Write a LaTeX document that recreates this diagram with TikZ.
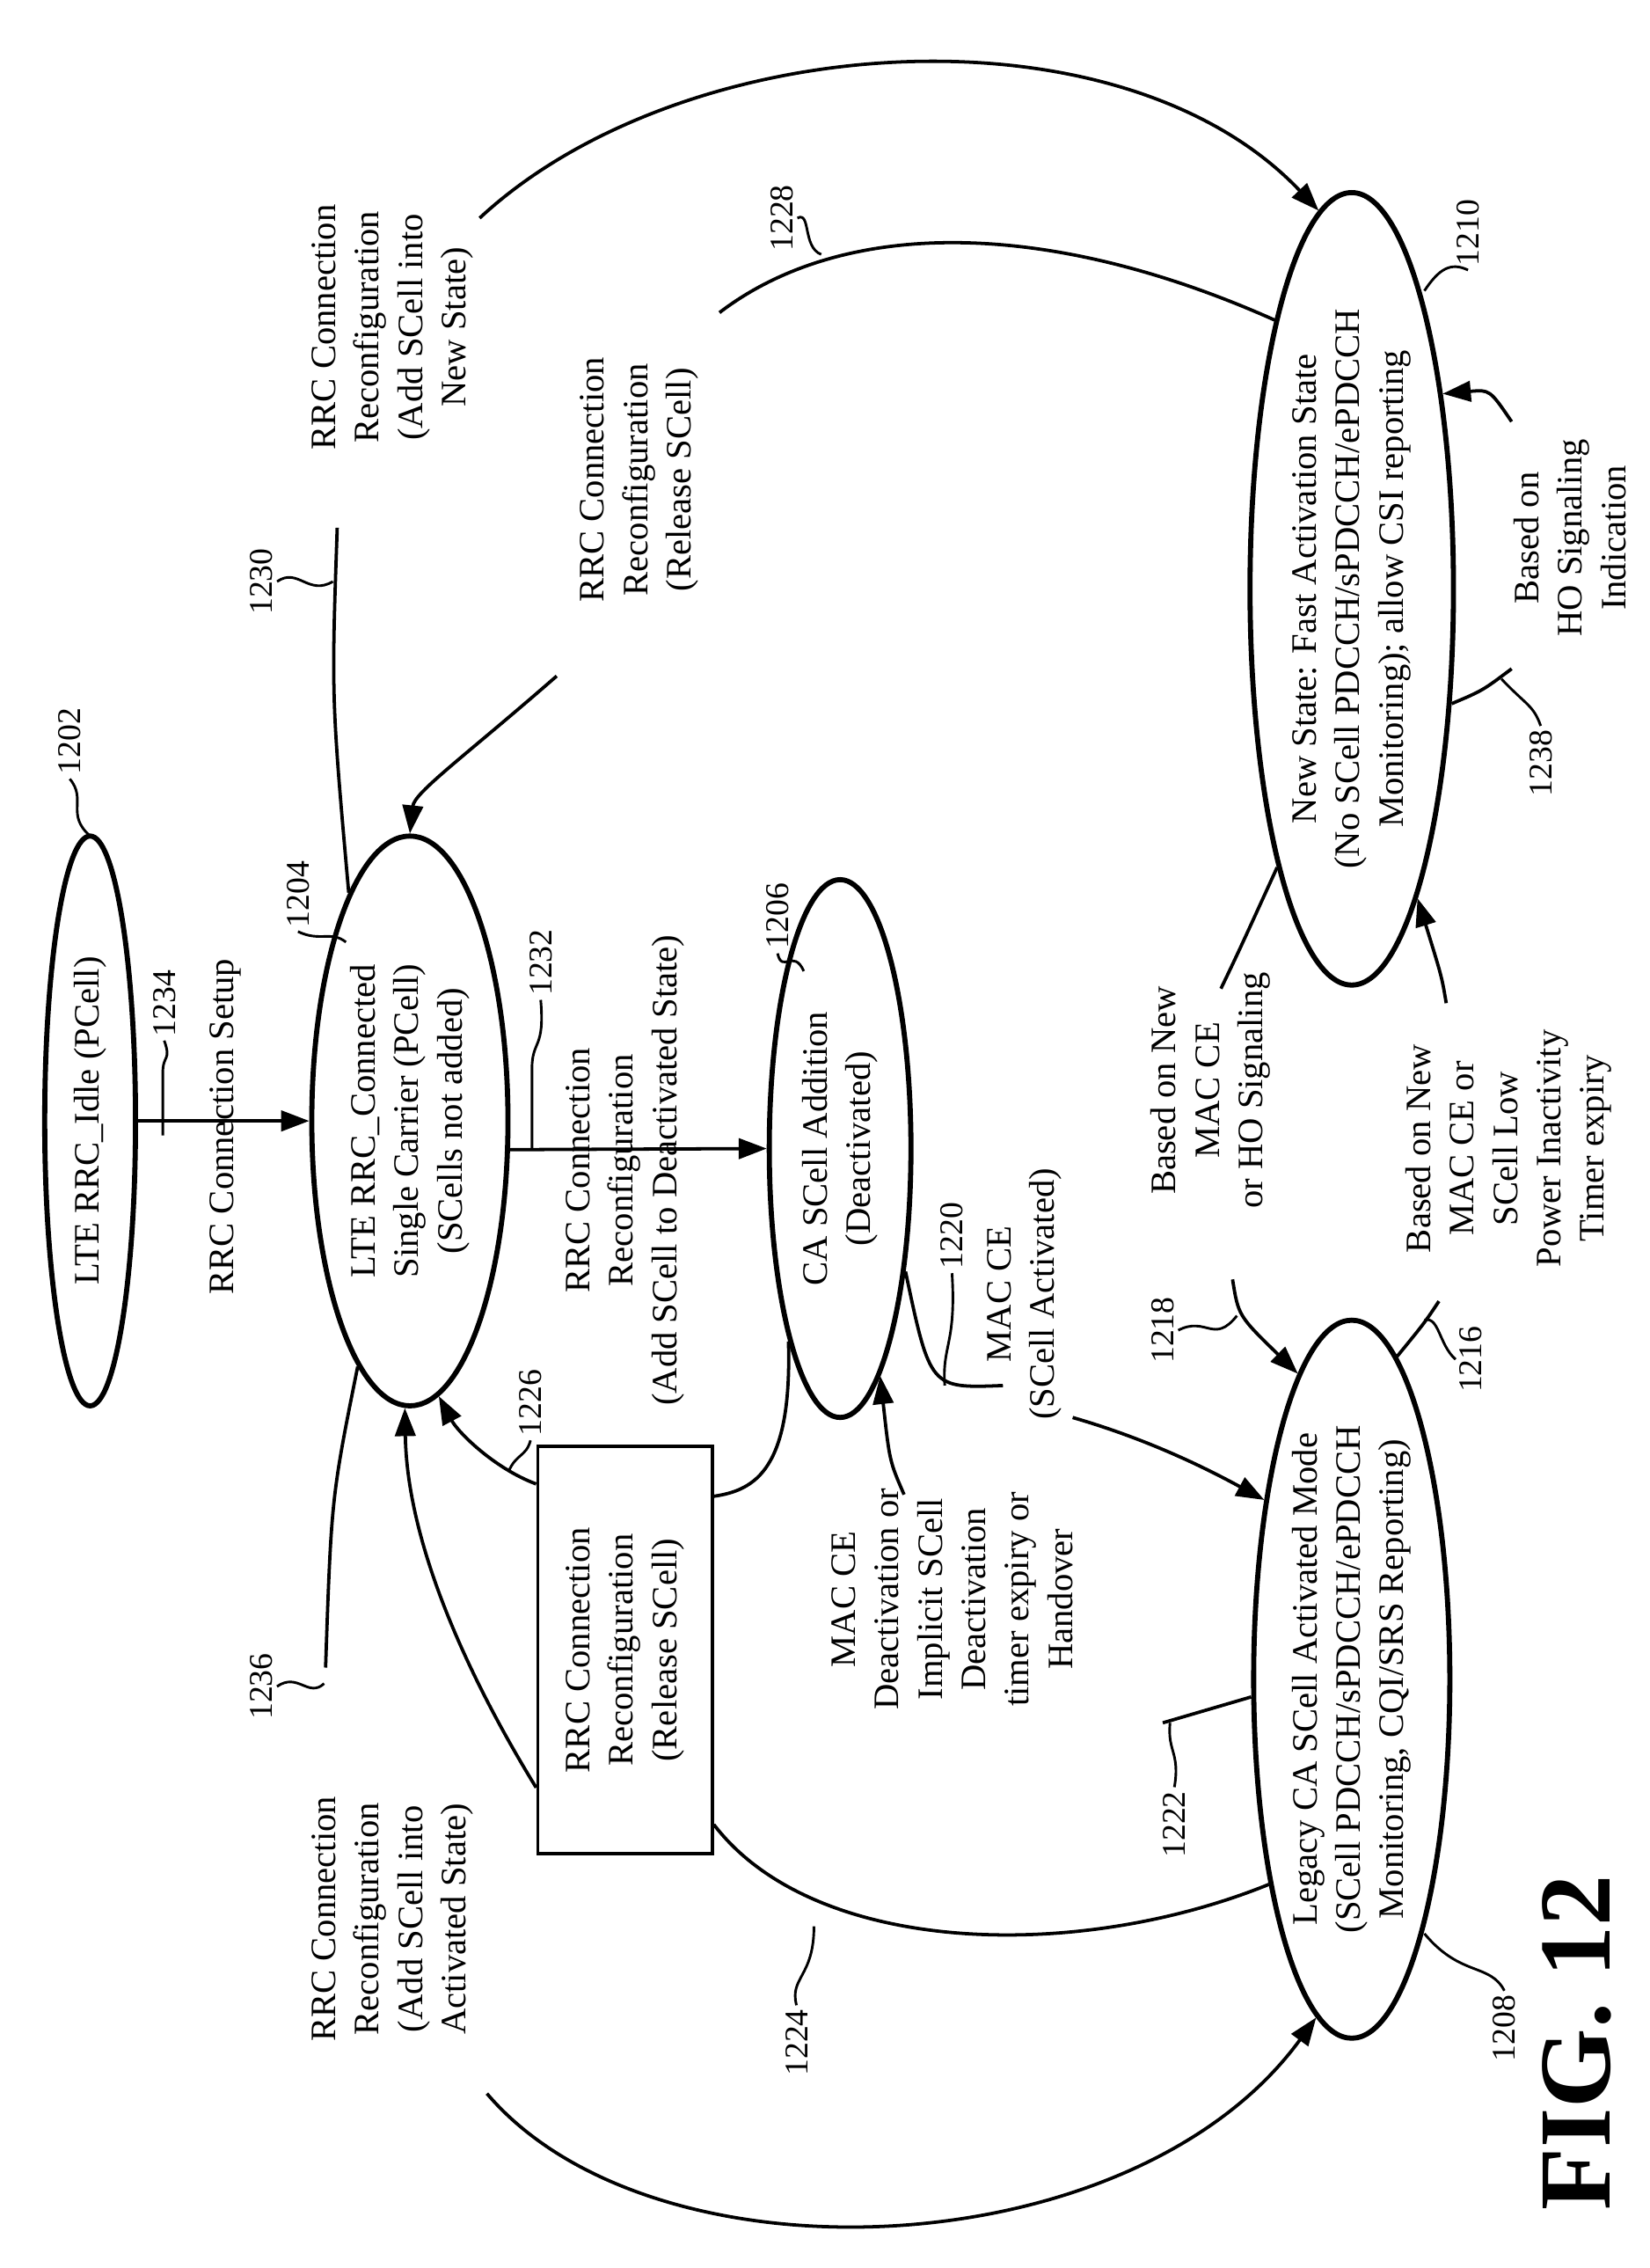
\documentclass[tikz,border=0pt]{standalone}
\usepackage{fontspec}
\setmainfont{Liberation Serif}
\usetikzlibrary{shapes.geometric,arrows.meta,calc}
\begin{document}
\begin{tikzpicture}[x=0.02cm,y=-0.02cm,line width=1.3pt,
  every node/.style={rotate=90,font=\fontsize{14}{17}\selectfont,align=center},
  st/.style={draw,ellipse,inner sep=0pt,line width=2pt},
  lab/.style={inner sep=1pt},
  ar/.style={-{Triangle[length=11pt,width=8pt]}},
  sq/.style={line width=1pt},
  num/.style={inner sep=1pt,font=\fontsize{13}{15}\selectfont}]
\useasboundingbox (0,0) rectangle (1135,1560);
\node[st,minimum width=7.84cm,minimum height=1.25cm] (idle) at (62,771) {LTE RRC\_Idle (PCell)};
\node[st,minimum width=7.84cm,minimum height=2.7cm] (conn) at (282,771) {LTE RRC\_Connected\\Single Carrier (PCell)\\(SCells not added)};
\node[st,minimum width=7.4cm,minimum height=1.95cm] (add) at (578,790) {CA SCell Addition\\(Deactivated)};
\node[st,minimum width=9.3cm,minimum height=2.7cm] (leg) at (930,1155) {Legacy CA SCell Activated Mode\\(SCell PDCCH/sPDCCH/ePDCCH\\Monitoring, CQI/SRS Reporting)};
\node[st,minimum width=9.8cm,minimum height=2.8cm] (new) at (930,405) {New State: Fast Activation State\\(No SCell PDCCH/sPDCCH/ePDCCH\\Monitoring); allow CSI reporting};
\node[draw,minimum width=5.6cm,minimum height=2.4cm] (rel) at (430,1135) {RRC Connection\\Reconfiguration\\(Release SCell)};
% labels
\node[lab] (t1234) at (155,775) {RRC Connection Setup};
\node[lab] (t1232) at (430,805) {RRC Connection\\Reconfiguration\\(Add SCell to Deactivated State)};
\node[lab] (t1220) at (705,890) {MAC CE\\(SCell Activated)};
\node[lab] (t1222) at (655,1100) {MAC CE\\Deactivation or\\Implicit SCell\\Deactivation\\timer expiry or\\Handover};
\node[lab] (t1236) at (270,1320) {RRC Connection\\Reconfiguration\\(Add SCell into\\Activated State)};
\node[lab] (t1230) at (270,225) {RRC Connection\\Reconfiguration\\(Add SCell into\\New State)};
\node[lab] (t1228) at (440,330) {RRC Connection\\Reconfiguration\\(Release SCell)};
\node[lab] (t1218) at (833,750) {Based on New\\MAC CE\\or HO Signaling};
\node[lab] (t1216) at (1038,790) {Based on New\\MAC CE or\\SCell Low\\Power Inactivity\\Timer expiry};
\node[lab] (t1238) at (1080,370) {Based on\\HO Signaling\\Indication};
\node[font=\fontsize{40}{40}\selectfont\bfseries] (fig) at (1085,1405) {FIG. 12};
% connectors
\draw[ar] (idle.270) -- (conn.90);
\draw[ar] (conn.-106) -- (add.90);
\coordinate (c1220a) at (690,953);
\draw (add.208) .. controls (640,955) .. (c1220a);
\coordinate (c1220b) at (738,975);
\draw[ar] (c1220b) .. controls (790,990) and (830,1010) .. (leg.26);
\coordinate (c1222a) at (800,1185);
\draw (leg.100) -- (c1222a);
\coordinate (c1222b) at (622,1028);
\draw[ar] (c1222b) .. controls (612,1005) .. (add.190);
\draw (add.165) .. controls (545,1010) and (520,1025) .. ($(rel.south)!0.75!(rel.south east)$);
\draw[ar] ($(rel.north)!0.81!(rel.north east)$) .. controls (340,1010) and (315,985) .. (conn.186);
\draw (leg.158) .. controls (740,1350) and (560,1345) .. ($(rel.south)!0.85!(rel.south west)$);
\draw[ar] ($(rel.north)!0.67!(rel.north west)$) .. controls (320,1150) and (280,1060) .. (conn.179);
\coordinate (c1236a) at (224,1147);
\draw (conn.168) .. controls (228,1030) .. (c1236a);
\coordinate (c1236b) at (335,1440);
\draw[ar] (c1236b) .. controls (450,1575) and (780,1560) .. (leg.174);
\coordinate (c1230a) at (232,363);
\draw (conn.15) .. controls (228,480) .. (c1230a);
\coordinate (c1230b) at (330,150);
\draw[ar] (c1230b) .. controls (470,20) and (770,0) .. (new.5);
\coordinate (c1228a) at (495,215);
\draw (new.16) .. controls (720,150) and (580,150) .. (c1228a);
\coordinate (c1228b) at (383,465);
\draw[ar] (c1228b) .. controls (320,520) and (285,545) .. (conn.0);
\coordinate (c1218a) at (840,680);
\draw (new.165) .. controls (852,655) .. (c1218a);
\coordinate (c1218b) at (848,880);
\draw[ar] (c1218b) .. controls (852,905) .. (leg.10);
\coordinate (c1216a) at (990,895);
\draw (leg.-8) .. controls (980,910) .. (c1216a);
\coordinate (c1216b) at (995,690);
\draw[ar] (c1216b) .. controls (992,672) .. (new.192);
\coordinate (c1238a) at (1040,460);
\draw (new.-139) .. controls (1020,475) .. (c1238a);
\coordinate (c1238b) at (1040,290);
\draw[ar] (c1238b) .. controls (1025,268) .. (new.-25);
% reference numerals
\node[num] (n1202) at (48,510) {1202};
\draw[sq] (62,575) .. controls (45,560) and (60,550) .. (n1202.west);
\node[num] (n1234) at (113,690) {1234};
\draw[sq] (112,781) -- (112,738) .. controls (112,725) and (118,730) .. (n1234.west);
\node[num] (n1204) at (205,615) {1204};
\draw[sq] (238,648) .. controls (228,640) and (220,648) .. (n1204.west);
\node[num] (n1232) at (372,662) {1232};
\draw[sq] (366,790) -- (366,735) .. controls (366,715) and (375,722) .. (n1232.west);
\node[num] (n1206) at (535,630) {1206};
\draw[sq] (553,668) .. controls (546,652) and (538,670) .. (n1206.west);
\node[num] (n1220) at (655,850) {1220};
\draw[sq] (650,953) .. controls (648,925) and (658,925) .. (n1220.west);
\node[num] (n1226) at (365,965) {1226};
\draw[sq] (350,1012) .. controls (355,1000) and (362,1002) .. (n1226.west);
\node[num] (n1236) at (180,1160) {1236};
\draw[sq] (n1236.south) .. controls (205,1150) and (212,1168) .. (223,1158);
\node[num] (n1230) at (180,400) {1230};
\draw[sq] (n1230.south) .. controls (205,390) and (212,410) .. (229,400);
\node[num] (n1228) at (538,150) {1228};
\draw[sq] (n1228.south) .. controls (558,145) and (552,170) .. (565,175);
\node[num] (n1224) at (548,1405) {1224};
\draw[sq] (n1224.east) .. controls (543,1360) and (560,1360) .. (560,1325);
\node[num] (n1222) at (808,1255) {1222};
\draw[sq] (805,1185) .. controls (803,1205) and (812,1205) .. (n1222.east);
\node[num] (n1208) at (1035,1395) {1208};
\draw[sq] (980,1330) .. controls (1005,1360) and (1025,1350) .. (n1208.east);
\node[num] (n1218) at (800,915) {1218};
\draw[sq] (n1218.south) .. controls (830,905) and (835,925) .. (851,905);
\node[num] (n1216) at (1012,935) {1216};
\draw[sq] (n1216.north) .. controls (990,925) and (990,905) .. (980,908);
\node[num] (n1210) at (1010,160) {1210};
\draw[sq] (980,200) .. controls (990,185) and (998,180) .. (n1210.west);
\node[num] (n1238) at (1060,525) {1238};
\draw[sq] (1033,467) .. controls (1050,485) and (1055,485) .. (n1238.east);
\end{tikzpicture}
\end{document}
